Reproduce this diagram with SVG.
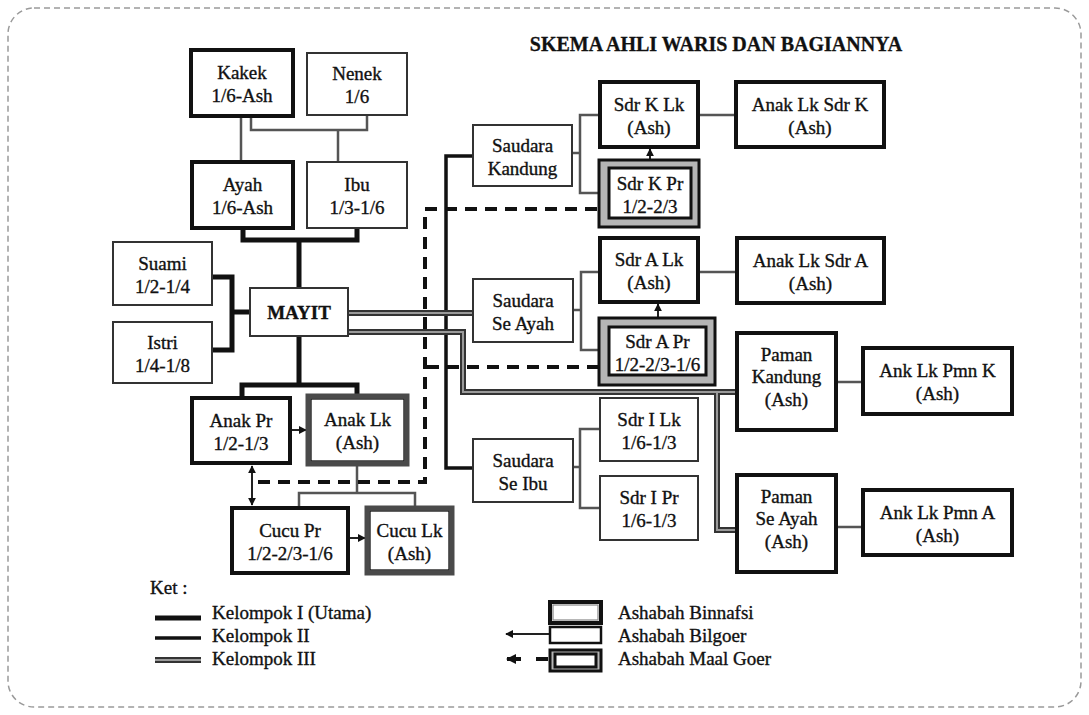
<svg xmlns="http://www.w3.org/2000/svg" width="1089" height="715" viewBox="0 0 1089 715">
<style>
.t{font-family:"Liberation Serif","Times New Roman",serif;font-size:19px;fill:#111;stroke:#111;stroke-width:0.35;text-anchor:middle}
.b{font-weight:bold}
.lg{font-family:"Liberation Serif","Times New Roman",serif;font-size:19px;fill:#111;stroke:#111;stroke-width:0.35}
.tn{fill:#fff;stroke:#333;stroke-width:2}
.bn{fill:#fff;stroke:#111;stroke-width:4}
.gd{fill:#fff;stroke:#4a4a4a;stroke-width:5}
.gdi{fill:none;stroke:#111;stroke-width:1.3}
.mgo{fill:#b5b5b5;stroke:#111;stroke-width:3}
.mgi{fill:#fff;stroke:#111;stroke-width:3}
.k1{fill:none;stroke:#111;stroke-width:5}
.k2{fill:none;stroke:#111;stroke-width:3.5}
.k3o{fill:none;stroke:#333;stroke-width:6}
.k3i{fill:none;stroke:#9a9a9a;stroke-width:2}
.th{fill:none;stroke:#555;stroke-width:2.5}
.ar{fill:none;stroke:#222;stroke-width:2}
.ds{fill:none;stroke:#111;stroke-width:4;stroke-dasharray:12 8}
</style>
<defs>
<marker id="ah" viewBox="0 0 10 10" refX="9" refY="5" markerWidth="4" markerHeight="4" orient="auto-start-reverse">
<path d="M0,0 L10,5 L0,10 z" fill="#111"/>
</marker>
<marker id="ahs" viewBox="0 0 10 10" refX="9" refY="5" markerWidth="2.5" markerHeight="2.5" orient="auto-start-reverse">
<path d="M0,0 L10,5 L0,10 z" fill="#111"/>
</marker>
</defs>
<rect x="8" y="8" width="1073" height="699" rx="26" fill="#fff" stroke="#9a9a9a" stroke-width="1.5" stroke-dasharray="6 4"/>
<text x="716" y="51" font-family="Liberation Serif, Times New Roman, serif" font-size="20" font-weight="bold" text-anchor="middle" fill="#111" stroke="#111" stroke-width="0.3">SKEMA AHLI WARIS DAN BAGIANNYA</text>

<g id="connectors">
<path class="th" d="M241,116 V162 M251,116 V130 H367 V115 M338,130 V162"/>
<path class="k1" d="M243,228 V240 H357 V228 M299,240 V288"/>
<path class="k1" d="M212,277 H232 V350 H212 M232,312 H250"/>
<path class="k1" d="M299,336 V385 M242,398 V385 H357 V396"/>
<path class="th" d="M357,464 V493 M299,508 V493 H415 V508"/>
<path class="ds" d="M597,209 H425 V482 H252 M599,367 H425"/>
<path class="k2" d="M473,156 H446 V468 H473"/>
<path class="k3o" d="M348,313 H473 M348,332 H463 V392 H737 M717,392 V530 H737"/>
<path class="k3i" d="M348,313 H473 M348,332 H463 V392 H737 M717,392 V530 H737"/>
<path class="th" d="M572,153 H580 M600,115 H580 V193 H599 M698,115 H736"/>
<path class="th" d="M573,310 H581 M600,272 H581 V350 H599 M698,272 H737"/>
<path class="th" d="M573,467 H580 M600,429 H580 V508 H600"/>
<path class="th" d="M836,382 H863 M836,527 H863"/>
<path class="ar" d="M290,430 H306" marker-end="url(#ah)"/>
<path class="ar" d="M348,538 H365" marker-end="url(#ah)"/>
<path class="ar" d="M252,466 V505" marker-start="url(#ah)" marker-end="url(#ah)"/>
<path class="ar" d="M650,168 V149" marker-end="url(#ah)"/>
<path class="ar" d="M658,327 V304" marker-end="url(#ah)"/>
</g>

<g id="kakek"><rect class="bn" x="191" y="50" width="102" height="66"/><text class="t"><tspan x="242" y="79">Kakek</tspan><tspan x="242" y="102">1/6-Ash</tspan></text></g>
<g id="nenek"><rect class="tn" x="307" y="53" width="100" height="62"/><text class="t"><tspan x="357" y="80">Nenek</tspan><tspan x="357" y="103">1/6</tspan></text></g>
<g id="ayah"><rect class="bn" x="192" y="162" width="101" height="66"/><text class="t"><tspan x="242.5" y="191">Ayah</tspan><tspan x="242.5" y="214">1/6-Ash</tspan></text></g>
<g id="ibu"><rect class="tn" x="307" y="162" width="100" height="66"/><text class="t"><tspan x="357" y="191">Ibu</tspan><tspan x="357" y="214">1/3-1/6</tspan></text></g>
<g id="suami"><rect class="tn" x="113" y="242" width="99" height="63"/><text class="t"><tspan x="162.5" y="269.5">Suami</tspan><tspan x="162.5" y="292.5">1/2-1/4</tspan></text></g>
<g id="istri"><rect class="tn" x="113" y="322" width="99" height="61"/><text class="t"><tspan x="162.5" y="348.5">Istri</tspan><tspan x="162.5" y="371.5">1/4-1/8</tspan></text></g>
<g id="mayit"><rect class="tn" x="250" y="288" width="98" height="48"/><text class="t b" x="299" y="319">MAYIT</text></g>
<g id="anak-pr"><rect class="bn" x="192" y="398" width="98" height="65"/><text class="t"><tspan x="241" y="426.5">Anak Pr</tspan><tspan x="241" y="449.5">1/2-1/3</tspan></text></g>
<g id="anak-lk"><rect class="gd" x="308" y="396" width="99" height="68"/><rect class="gdi" x="311" y="399" width="93" height="62"/><text class="t"><tspan x="357.5" y="426">Anak Lk</tspan><tspan x="357.5" y="449">(Ash)</tspan></text></g>
<g id="cucu-pr"><rect class="bn" x="232" y="508" width="116" height="65"/><text class="t"><tspan x="290" y="536.5">Cucu Pr</tspan><tspan x="290" y="559.5">1/2-2/3-1/6</tspan></text></g>
<g id="cucu-lk"><rect class="gd" x="367" y="508" width="85" height="65"/><rect class="gdi" x="370" y="511" width="79" height="59"/><text class="t"><tspan x="409.5" y="536.5">Cucu Lk</tspan><tspan x="409.5" y="559.5">(Ash)</tspan></text></g>

<g id="saudara-kandung"><rect class="tn" x="473" y="125" width="99" height="61"/><text class="t"><tspan x="522.5" y="151.5">Saudara</tspan><tspan x="522.5" y="174.5">Kandung</tspan></text></g>
<g id="sdr-k-lk"><rect class="bn" x="600" y="82" width="98" height="65"/><text class="t"><tspan x="649" y="110.5">Sdr K Lk</tspan><tspan x="649" y="133.5">(Ash)</tspan></text></g>
<g id="sdr-k-pr"><rect class="mgo" x="599" y="160" width="100" height="67"/><rect class="mgi" x="609" y="168" width="82" height="50"/><text class="t"><tspan x="650" y="189.5">Sdr K Pr</tspan><tspan x="650" y="212.5">1/2-2/3</tspan></text></g>
<g id="anak-lk-sdr-k"><rect class="bn" x="736" y="82" width="148" height="65"/><text class="t"><tspan x="810" y="110.5">Anak Lk Sdr K</tspan><tspan x="810" y="133.5">(Ash)</tspan></text></g>

<g id="saudara-se-ayah"><rect class="tn" x="473" y="279" width="100" height="63"/><text class="t"><tspan x="523" y="306.5">Saudara</tspan><tspan x="523" y="329.5">Se Ayah</tspan></text></g>
<g id="sdr-a-lk"><rect class="bn" x="600" y="238" width="98" height="64"/><text class="t"><tspan x="649" y="266">Sdr A Lk</tspan><tspan x="649" y="289">(Ash)</tspan></text></g>
<g id="sdr-a-pr"><rect class="mgo" x="599" y="318" width="116" height="67"/><rect class="mgi" x="609" y="327" width="97" height="48"/><text class="t"><tspan x="657.5" y="347.5">Sdr A Pr</tspan><tspan x="657.5" y="370.5">1/2-2/3-1/6</tspan></text></g>
<g id="anak-lk-sdr-a"><rect class="bn" x="737" y="238" width="147" height="65"/><text class="t"><tspan x="810.5" y="266.5">Anak Lk Sdr A</tspan><tspan x="810.5" y="289.5">(Ash)</tspan></text></g>

<g id="paman-kandung"><rect class="bn" x="737" y="333" width="99" height="97"/><text class="t"><tspan x="786.5" y="360.5">Paman</tspan><tspan x="786.5" y="383">Kandung</tspan><tspan x="786.5" y="405.5">(Ash)</tspan></text></g>
<g id="ank-lk-pmn-k"><rect class="bn" x="863" y="348" width="149" height="66"/><text class="t"><tspan x="937.5" y="377">Ank Lk Pmn K</tspan><tspan x="937.5" y="400">(Ash)</tspan></text></g>
<g id="paman-se-ayah"><rect class="bn" x="737" y="475" width="99" height="97"/><text class="t"><tspan x="786.5" y="502.5">Paman</tspan><tspan x="786.5" y="525">Se Ayah</tspan><tspan x="786.5" y="547.5">(Ash)</tspan></text></g>
<g id="ank-lk-pmn-a"><rect class="bn" x="863" y="490" width="149" height="65"/><text class="t"><tspan x="937.5" y="518.5">Ank Lk Pmn A</tspan><tspan x="937.5" y="541.5">(Ash)</tspan></text></g>

<g id="saudara-se-ibu"><rect class="tn" x="473" y="439" width="100" height="63"/><text class="t"><tspan x="523" y="466.5">Saudara</tspan><tspan x="523" y="489.5">Se Ibu</tspan></text></g>
<g id="sdr-i-lk"><rect class="tn" x="600" y="398" width="98" height="63"/><text class="t"><tspan x="649" y="425.5">Sdr I Lk</tspan><tspan x="649" y="448.5">1/6-1/3</tspan></text></g>
<g id="sdr-i-pr"><rect class="tn" x="600" y="476" width="98" height="64"/><text class="t"><tspan x="649" y="504">Sdr I Pr</tspan><tspan x="649" y="527">1/6-1/3</tspan></text></g>

<g id="legend">
<text class="lg" x="150" y="594">Ket :</text>
<path class="k1" d="M155,618 H201"/>
<text class="lg" x="212" y="619">Kelompok I (Utama)</text>
<path class="k2" d="M155,638 H201"/>
<text class="lg" x="212" y="642">Kelompok II</text>
<path class="k3o" d="M155,660 H201"/>
<path class="k3i" d="M155,660 H201"/>
<text class="lg" x="212" y="665">Kelompok III</text>
<rect class="bn" x="550" y="602" width="51" height="21"/>
<rect fill="none" stroke="#888" stroke-width="1.2" x="553" y="605" width="45" height="15"/>
<text class="lg" x="618" y="619">Ashabah Binnafsi</text>
<path class="ar" d="M506,634 H549" marker-start="url(#ah)"/>
<rect fill="#fff" stroke="#111" stroke-width="2.5" x="550" y="627" width="51" height="16"/>
<text class="lg" x="618" y="642">Ashabah Bilgoer</text>
<path fill="none" stroke="#111" stroke-width="4" d="M507,659 H521 M536,659 H548" marker-start="url(#ahs)"/>
<rect class="mgo" x="550" y="650" width="51" height="21"/>
<rect class="mgi" x="555" y="654" width="41" height="13"/>
<text class="lg" x="618" y="665">Ashabah Maal Goer</text>
</g>
</svg>
